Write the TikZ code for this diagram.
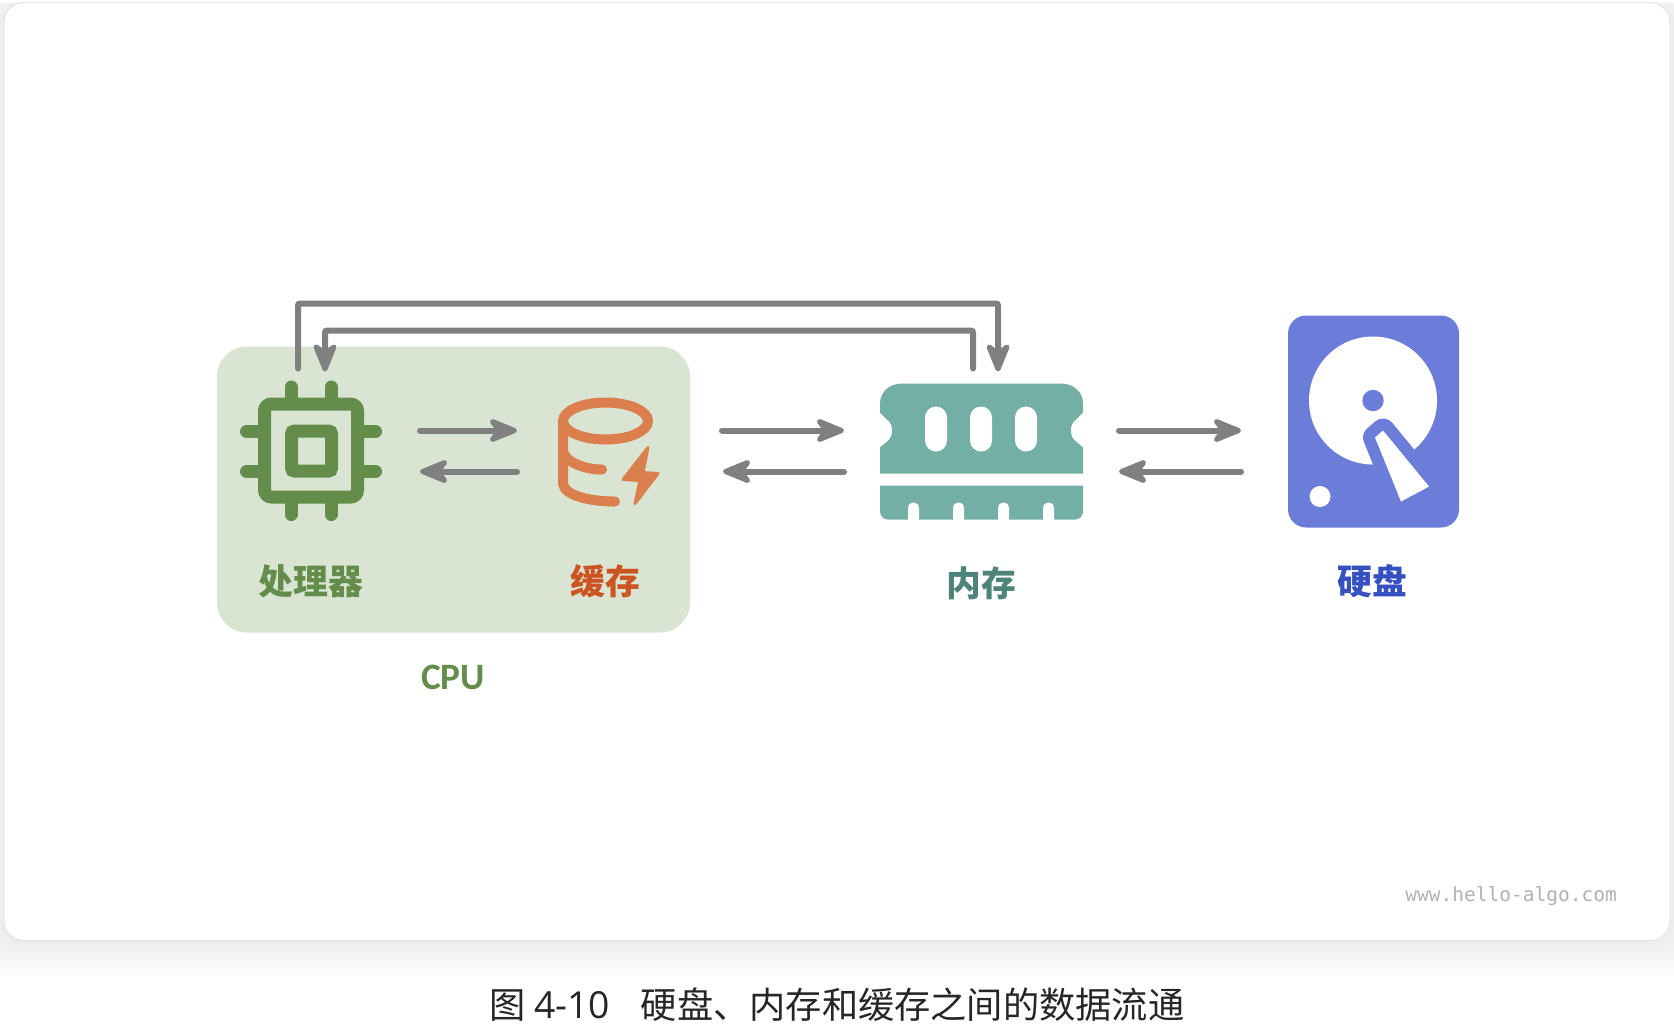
\documentclass[tikz,border=0pt]{standalone}
\usepackage{fontspec}
\setmainfont{Noto Sans CJK SC}
\setmonofont{DejaVu Sans Mono}
\newfontfamily\cpufont{Carlito}
\newfontfamily\capnum{Open Sans}
\usepackage{tikz}
\usetikzlibrary{arrows.meta}
\definecolor{chipgreen}{HTML}{648C4B}
\definecolor{cpubg}{HTML}{D9E5D2}
\definecolor{cacheorange}{HTML}{DC7F4F}
\definecolor{cachetext}{HTML}{CB5420}
\definecolor{ramteal}{HTML}{74AFA5}
\definecolor{ramtext}{HTML}{4D8378}
\definecolor{diskblue}{HTML}{6B7DD8}
\definecolor{disktext}{HTML}{3550C0}
\definecolor{flowgray}{HTML}{808080}
\tikzset{
  flow/.style={draw=flowgray, line width=0.06cm, line cap=round,
    -{Stealth[length=0.36cm, width=0.29cm, inset=0.11cm, line width=0.05cm, round]}},
  iconlabel/.style={font=\bfseries\fontsize{9.9pt}{12pt}\selectfont, inner sep=0pt},
  chipline/.style={draw=chipgreen, line width=0.13cm, line cap=round},
  cacheline/.style={draw=cacheorange, line width=0.1cm, line cap=round}
}
\begin{document}
\begin{tikzpicture}[x=0.01cm, y=-0.01cm]
\useasboundingbox (0,-0.5) rectangle (1674,1031.5);
\fill[white] (0,-0.5) rectangle (1674,1031.5);
\foreach \grow in {36,32,...,4} {
  \fill[black, opacity=0.007, rounded corners=0.22cm] (4-\grow,2) rectangle (1670+\grow,940+\grow);
}
\fill[white, draw=black!10, line width=0.01cm, rounded corners=0.2cm] (4,2) rectangle (1670,940);

\fill[cpubg, rounded corners=0.3cm] (217,346) rectangle (690,632);

\draw[chipline, rounded corners=0.07cm] (264.5,403.5) rectangle (357.5,496.5);
\draw[chipline, rounded corners=0.03cm] (291.5,430.5) rectangle (331.5,470.5);
\foreach \pin in {291,331} {
  \draw[chipline] (\pin,386.5) -- (\pin,397);
  \draw[chipline] (\pin,503) -- (\pin,514);
}
\foreach \pin in {431,471} {
  \draw[chipline] (246.5,\pin) -- (258,\pin);
  \draw[chipline] (364,\pin) -- (375.5,\pin);
}

\draw[cacheline] (605.5,420.5) ellipse (42.5 and 18.5);
\draw[cacheline] (563,421) -- (563,483) .. controls (564,495) and (590,501) .. (615,501);
\draw[cacheline] (563,451) .. controls (566,462) and (585,469) .. (602,469);
\filldraw[fill=cacheorange, draw=cacheorange, line width=0.03cm, line join=round]
  (648,447) -- (623,479) -- (640,480) -- (635,503) -- (658,473) -- (643,472) -- cycle;

\fill[ramteal] (880,403) .. controls (880,391) and (890,383) .. (902,383) -- (1061,383)
  .. controls (1073,383) and (1083,391) .. (1083,403) -- (1083,412) -- (1076,419)
  .. controls (1069,424) and (1069,436) .. (1076,441) -- (1083,447) -- (1083,473) -- (880,473)
  -- (880,447) -- (887,441) .. controls (894,436) and (894,424) .. (887,419) -- (880,412) -- cycle;
\foreach \slot in {925,970,1015} {
  \fill[white, rounded corners=0.11cm] (\slot,406) rectangle (\slot+22,451);
}
\fill[ramteal] (880,485) -- (1083,485) -- (1083,511) .. controls (1083,516) and (1079,519) .. (1075,519)
  -- (888,519) .. controls (884,519) and (880,516) .. (880,511) -- cycle;
\foreach \notch in {908,953,998,1043} {
  \fill[white, rounded corners=0.05cm] (\notch,525) rectangle (\notch+11,502);
}

\fill[diskblue, rounded corners=0.18cm] (1288,315) rectangle (1459,527);
\fill[white] (1373,400) circle (64);
\fill[diskblue] (1373,400) circle (10.7);
\fill[white] (1320,496) circle (10.5);
\draw[diskblue, line width=0.24cm, line join=round] (1375,437) -- (1383,430) -- (1429,486) -- (1401,501) -- cycle;
\fill[white] (1375,437) -- (1383,430) -- (1429,486) -- (1401,501) -- cycle;

\node[iconlabel, text=chipgreen] (chipLabel) at (311,581) {处理器};
\node[iconlabel, text=cachetext] (cacheLabel) at (605.5,581) {缓存};
\node[iconlabel, text=ramtext] (ramLabel) at (981.5,583) {内存};
\node[iconlabel, text=disktext] (diskLabel) at (1372,581) {硬盘};
\node[font=\cpufont\bfseries\fontsize{10.6pt}{12pt}\selectfont, text=chipgreen, inner sep=0pt] (cpuLabel) at (453,677) {CPU};

\coordinate (chipOut) at (298,368);
\coordinate (chipIn) at (325,371);
\coordinate (ramOut) at (973,368);
\coordinate (ramIn) at (998,371);
\coordinate (chipRight) at (420,430);
\coordinate (cacheLeft) at (517,430);
\coordinate (cacheBack) at (517,471);
\coordinate (chipBack) at (420,471);
\coordinate (cacheRight) at (722,430);
\coordinate (ramLeft) at (844,430);
\coordinate (ramBack) at (844,471);
\coordinate (cacheEnd) at (723,471);
\coordinate (ramRight) at (1119,430);
\coordinate (diskLeft) at (1241,430);
\coordinate (diskBack) at (1241,471);
\coordinate (ramEnd) at (1119,471);

\draw[flow, rounded corners=0.02cm] (chipOut) |- (950,303) -| (ramIn);
\draw[flow, rounded corners=0.02cm] (ramOut) |- (650,330) -| (chipIn);
\draw[flow] (chipRight) -- (cacheLeft);
\draw[flow] (cacheBack) -- (chipBack);
\draw[flow] (cacheRight) -- (ramLeft);
\draw[flow] (ramBack) -- (cacheEnd);
\draw[flow] (ramRight) -- (diskLeft);
\draw[flow] (diskBack) -- (ramEnd);

\node[font=\ttfamily\fontsize{5.55pt}{7pt}\selectfont, text=black!30, inner sep=0pt] (siteMark) at (1511,896) {www.hello-algo.com};
\node[font=\fontsize{10.3pt}{12pt}\selectfont, text=black!85, inner sep=0pt] (caption) at (837,1004) {图 {\capnum\fontsize{10.6pt}{12pt}\selectfont 4-10}\hspace{0.31cm}硬盘、内存和缓存之间的数据流通};
\end{tikzpicture}
\end{document}
